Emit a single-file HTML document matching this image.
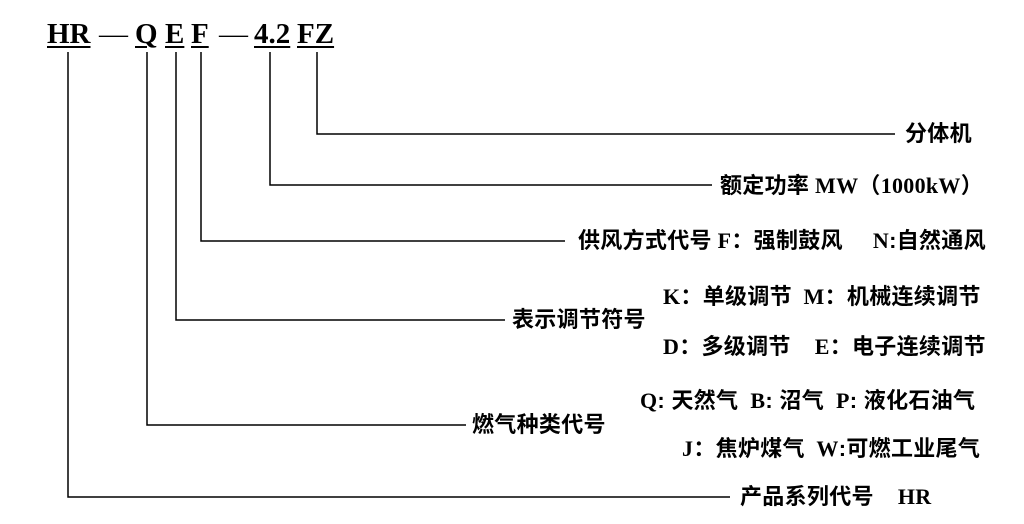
<!DOCTYPE html>
<html><head><meta charset="utf-8"><style>
body{margin:0;width:1024px;height:524px;background:#fff;position:relative;overflow:hidden;font-family:"Liberation Serif","Noto Serif CJK SC",serif;color:#000}
.t{position:absolute;white-space:nowrap;font-size:22px;font-weight:bold;line-height:24px;letter-spacing:0.3px}
.c{font-family:"Liberation Sans","Noto Sans CJK SC",sans-serif;font-weight:bold}
.h{position:absolute;font-size:29px;font-weight:bold;top:18px;line-height:32px;white-space:nowrap}
.u{text-decoration:underline;text-decoration-thickness:2px;text-underline-offset:3px}
.s{display:inline-block}
</style></head><body>
<svg width="1024" height="524" style="position:absolute;left:0;top:0" stroke="#000" stroke-width="1.5" fill="none">
<polyline points="68,52 68,497 730,497"/>
<polyline points="147,52 147,425 466,425"/>
<polyline points="176,52 176,320 505,320"/>
<polyline points="201,52 201,241 565,241"/>
<polyline points="270,52 270,185 712,185"/>
<polyline points="317,52 317,134 895,134"/>
</svg>
<div class="h" style="left:47px"><span class="u">HR</span></div>
<div class="h" style="left:99px;font-weight:normal">—</div>
<div class="h" style="left:135px"><span class="u">Q</span></div>
<div class="h" style="left:165px"><span class="u">E</span></div>
<div class="h" style="left:191px"><span class="u">F</span></div>
<div class="h" style="left:219px;font-weight:normal">—</div>
<div class="h" style="left:254px"><span class="u">4.2</span></div>
<div class="h" style="left:297px"><span class="u">FZ</span></div>

<div class="t c" style="left:905px;top:122px">分体机</div>
<div class="t" style="left:720px;top:174px"><span class="c">额定功率</span> MW<span class="c">（</span>1000kW<span class="c">）</span></div>
<div class="t" style="left:578px;top:229px"><span class="c">供风方式代号</span> F<span class="c">：强制鼓风</span><span class="s" style="width:30px"></span>N<span class="c">:自然通风</span></div>
<div class="t" style="left:663px;top:285px">K<span class="c">：单级调节</span>&nbsp; M<span class="c">：机械连续调节</span></div>
<div class="t c" style="left:512px;top:308px">表示调节符号</div>
<div class="t" style="left:663px;top:335px">D<span class="c">：多级调节</span><span class="s" style="width:24px"></span>E<span class="c">：电子连续调节</span></div>
<div class="t" style="left:640px;top:389px">Q<span class="c">: 天然气</span><span class="s" style="width:12px"></span>B<span class="c">: 沼气</span><span class="s" style="width:12px"></span>P<span class="c">: 液化石油气</span></div>
<div class="t c" style="left:472px;top:413px">燃气种类代号</div>
<div class="t" style="left:682px;top:437px">J<span class="c">：焦炉煤气</span>&nbsp; W<span class="c">:可燃工业尾气</span></div>
<div class="t" style="left:740px;top:485px"><span class="c">产品系列代号</span><span class="s" style="width:24px"></span>HR</div>
</body></html>
